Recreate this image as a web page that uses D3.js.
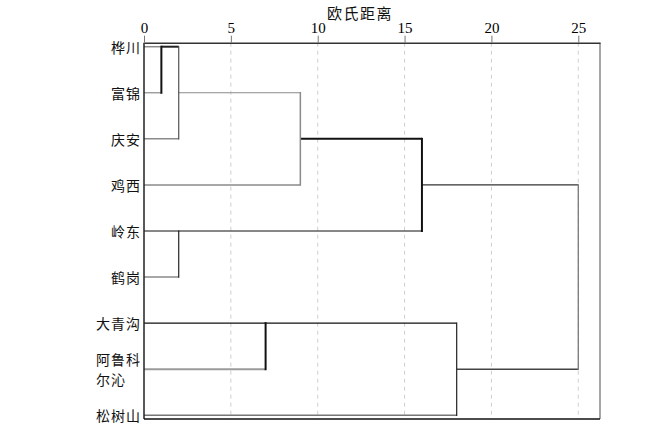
<!DOCTYPE html>
<html>
<head>
<meta charset="utf-8">
<script src="https://cdn.jsdelivr.net/npm/d3@7"></script>
<style>
  html, body { margin: 0; padding: 0; background: #fff; }
  svg { display: block; }
</style>
</head>
<body>
<svg id="chart" width="655" height="424"></svg>
<script>
// ---- data ----
const leaves = ["桦川", "富锦", "庆安", "鸡西", "岭东", "鹤岗", "大青沟", "阿鲁科尔沁", "松树山"];
// agglomeration schedule: [childA, childB, distance]; ids >= leaves.length are earlier merges
const mergeA = [0, 9, 10, 4, 11, 6, 14, 13];
const mergeB = [1, 2, 3, 5, 12, 7, 8, 15];
const mergeDist = [1, 2, 9, 2, 16, 7, 18, 25];
const tickValues = [0, 5, 10, 15, 20, 25];
const axisTitle = "欧氏距离";

// ---- styles (per node stem / per merge vertical) ----
const stemStyle = [
  ["#8a8a8a", 1.5], ["#8a8a8a", 1.2], ["#8a8a8a", 1.5], ["#8a8a8a", 1.5],
  ["#111", 1.2], ["#8a8a8a", 1.5], ["#111", 1.2], ["#9a9a9a", 2], ["#777", 1.5],
  ["#222", 2], ["#8a8a8a", 1.1], ["#111", 2], ["#111", 1.2],
  ["#333", 1.2], ["#111", 1.2], ["#444", 1.5], null
];
const vertStyle = [
  ["#111", 2], ["#444", 1.1], ["#8a8a8a", 1.5], ["#111", 1.1],
  ["#111", 2], ["#111", 2], ["#222", 1.2], ["#777", 1.3]
];

const svg = d3.select("#chart");
const plotL = 144, plotR = 600, plotT = 42.7, plotB = 419;

const x = d3.scaleLinear().domain([0, 26.25]).range([plotL, plotR]);
const y = d3.scalePoint().domain(leaves).range([46.7, 415.3]);

// grid
svg.append("g").selectAll("line").data(tickValues.filter(d => d > 0)).join("line")
  .attr("x1", d => x(d)).attr("x2", d => x(d))
  .attr("y1", plotT).attr("y2", plotB)
  .attr("stroke", "#cfcfcf").attr("stroke-width", 1).attr("stroke-dasharray", "4,4");

// node positions
const n = leaves.length;
const nodeY = leaves.map(l => y(l));
const nodeX = leaves.map(() => 0);
const parentOf = [];
mergeA.forEach((a, i) => {
  const b = mergeB[i];
  const id = n + i;
  const bothLeaves = a < n && b < n;
  nodeY[id] = bothLeaves ? nodeY[a] : (nodeY[a] + nodeY[b]) / 2;
  nodeX[id] = mergeDist[i];
  parentOf[a] = i; parentOf[b] = i;
});

const g = svg.append("g").attr("fill", "none");
// stems
nodeY.forEach((yy, id) => {
  if (parentOf[id] === undefined) return;
  const st = stemStyle[id];
  g.append("line")
    .attr("x1", x(nodeX[id])).attr("x2", x(mergeDist[parentOf[id]]))
    .attr("y1", yy).attr("y2", yy)
    .attr("stroke", st[0]).attr("stroke-width", st[1]);
});
// verticals
mergeA.forEach((a, i) => {
  const b = mergeB[i];
  const st = vertStyle[i];
  g.append("line")
    .attr("x1", x(mergeDist[i])).attr("x2", x(mergeDist[i]))
    .attr("y1", nodeY[a]).attr("y2", nodeY[b])
    .attr("stroke", st[0]).attr("stroke-width", st[1])
    .attr("stroke-linecap", "square");
});

// frame
svg.append("line").attr("x1", plotL).attr("x2", plotL).attr("y1", plotT).attr("y2", plotB)
  .attr("stroke", "#222").attr("stroke-width", 1.5);
svg.append("line").attr("x1", plotR).attr("x2", plotR).attr("y1", plotT).attr("y2", plotB)
  .attr("stroke", "#888").attr("stroke-width", 1.5);
svg.append("line").attr("x1", plotL).attr("x2", plotR).attr("y1", plotB).attr("y2", plotB)
  .attr("stroke", "#111").attr("stroke-width", 1.5);

// top axis
const axis = d3.axisTop(x).tickValues(tickValues).tickSize(7).tickPadding(3).tickSizeOuter(0);
const ag = svg.append("g").attr("transform", `translate(0,${plotT})`).call(axis);
ag.select(".domain").attr("stroke", "#333").attr("stroke-width", 1.5);
ag.selectAll(".tick line").attr("stroke", "#777").attr("stroke-width", 1);
ag.selectAll(".tick text")
  .attr("font-family", "'Liberation Serif', 'DejaVu Serif', serif")
  .attr("font-size", 15).attr("fill", "#000");

// axis title
svg.append("text").attr("x", 360).attr("y", 19).attr("text-anchor", "middle")
  .attr("font-family", "'Noto Sans CJK SC', sans-serif").attr("font-size", 15)
  .attr("letter-spacing", 1.5).attr("fill", "#111").text(axisTitle);

// leaf labels
const lab = svg.append("g")
  .attr("font-family", "'Noto Sans CJK SC', sans-serif").attr("font-size", 14)
  .attr("letter-spacing", 1).attr("fill", "#111");
leaves.forEach(l => {
  if (l.length > 3) {
    const l1 = l.slice(0, 3), l2 = l.slice(3);
    const t1 = lab.append("text").attr("x", 141).attr("y", y(l) - 10)
      .attr("text-anchor", "end").attr("dominant-baseline", "central").text(l1);
    const bx = t1.node().getBBox().x;
    lab.append("text").attr("x", bx).attr("y", y(l) + 10)
      .attr("text-anchor", "start").attr("dominant-baseline", "central").text(l2);
  } else {
    lab.append("text").attr("x", 141).attr("y", y(l))
      .attr("text-anchor", "end").attr("dominant-baseline", "central").text(l);
  }
});
</script>
</body>
</html>
